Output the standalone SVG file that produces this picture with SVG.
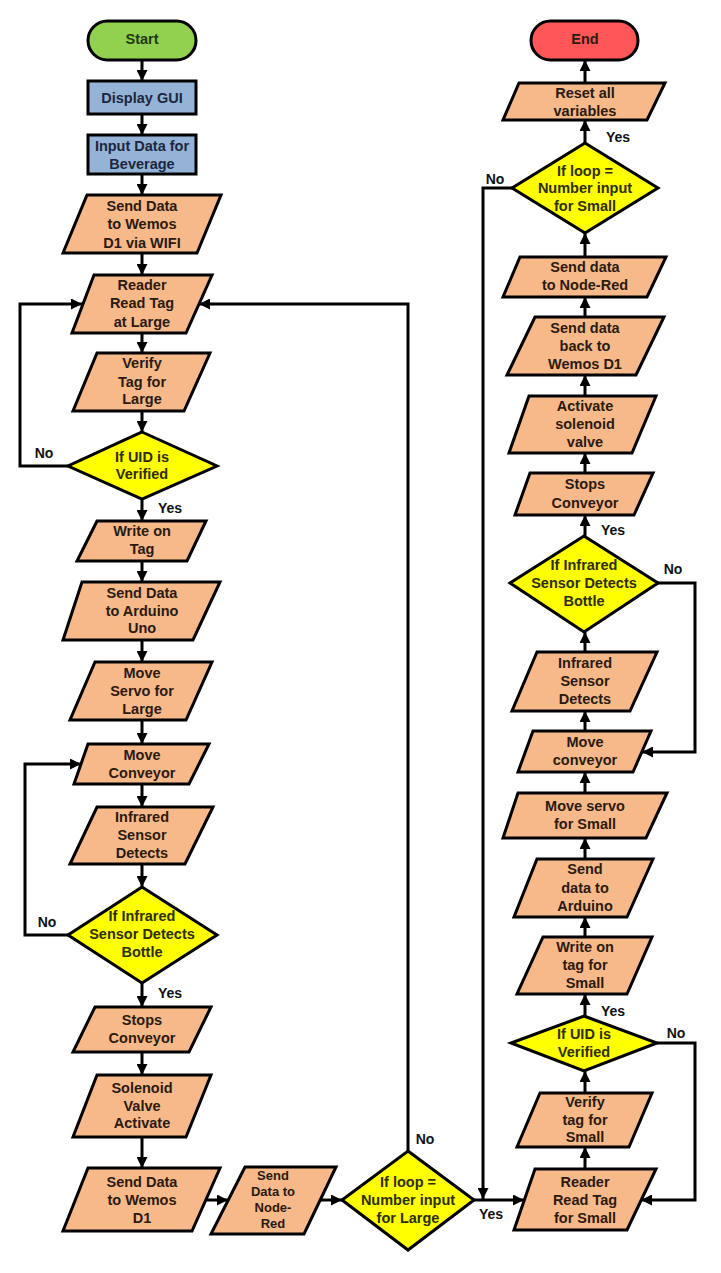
<svg xmlns="http://www.w3.org/2000/svg" width="721" height="1273" viewBox="0 0 721 1273">
  <defs>
    <marker id="arrow" viewBox="0 0 10 10" refX="10" refY="5" markerWidth="11" markerHeight="11" markerUnits="userSpaceOnUse" orient="auto">
      <path d="M0,0 L10,5 L0,10 z" fill="#000"/>
    </marker>
    <style>
      .shape { stroke: #000; stroke-width: 3; stroke-linejoin: miter; }
      .start { fill: #92D050; }
      .end { fill: #FF5757; }
      .proc { fill: #95B3D7; }
      .io { fill: #F7B88A; }
      .dec { fill: #FFFF00; }
      text { font-family: "Liberation Sans", Arial, sans-serif; font-weight: bold; text-anchor: middle; }
      .t { font-size: 14.5px; fill: #2B1A0E; }
      .ts { font-size: 13px; fill: #2B1A0E; }
      .tg { font-size: 14.5px; fill: #1E3A12; }
      .tb { font-size: 14.5px; fill: #1C2640; }
      .ty { font-size: 14.5px; fill: #2E2E06; }
      .lbl { font-size: 14px; fill: #111; }
      .conn { fill: none; stroke: #000; stroke-width: 3; }
    </style>
  </defs>
  <rect width="721" height="1273" fill="#fff"/>

  <!-- connectors -->
  <g id="connectors">
    <!-- left column, downward -->
    <line class="conn" x1="142" y1="60" x2="142" y2="81" marker-end="url(#arrow)"/>
    <line class="conn" x1="142" y1="114" x2="142" y2="135" marker-end="url(#arrow)"/>
    <line class="conn" x1="142" y1="174" x2="142" y2="195" marker-end="url(#arrow)"/>
    <line class="conn" x1="142" y1="253" x2="142" y2="275" marker-end="url(#arrow)"/>
    <line class="conn" x1="142" y1="333" x2="142" y2="353" marker-end="url(#arrow)"/>
    <line class="conn" x1="142" y1="411" x2="142" y2="432" marker-end="url(#arrow)"/>
    <line class="conn" x1="142" y1="499" x2="142" y2="521" marker-end="url(#arrow)"/>
    <line class="conn" x1="142" y1="561" x2="142" y2="582" marker-end="url(#arrow)"/>
    <line class="conn" x1="142" y1="640" x2="142" y2="662" marker-end="url(#arrow)"/>
    <line class="conn" x1="142" y1="720" x2="142" y2="744" marker-end="url(#arrow)"/>
    <line class="conn" x1="142" y1="784" x2="142" y2="807" marker-end="url(#arrow)"/>
    <line class="conn" x1="142" y1="864" x2="142" y2="887" marker-end="url(#arrow)"/>
    <line class="conn" x1="142" y1="983" x2="142" y2="1007" marker-end="url(#arrow)"/>
    <line class="conn" x1="142" y1="1052" x2="142" y2="1075" marker-end="url(#arrow)"/>
    <line class="conn" x1="142" y1="1137" x2="142" y2="1168" marker-end="url(#arrow)"/>
    <!-- bottom row, rightward -->
    <line class="conn" x1="206" y1="1200" x2="228" y2="1200" marker-end="url(#arrow)"/>
    <line class="conn" x1="320" y1="1200" x2="342" y2="1200" marker-end="url(#arrow)"/>
    <line class="conn" x1="474" y1="1200" x2="524" y2="1200" marker-end="url(#arrow)"/>
    <!-- left loops -->
    <polyline class="conn" points="68,466 20,466 20,304 82,304" marker-end="url(#arrow)"/>
    <polyline class="conn" points="68,935 25,935 25,764 81,764" marker-end="url(#arrow)"/>
    <polyline class="conn" points="408,1151 408,304 199,304" marker-end="url(#arrow)"/>
    <!-- right column, upward -->
    <line class="conn" x1="585" y1="1169" x2="585" y2="1147" marker-end="url(#arrow)"/>
    <line class="conn" x1="585" y1="1093" x2="585" y2="1071" marker-end="url(#arrow)"/>
    <line class="conn" x1="585" y1="1016" x2="585" y2="994" marker-end="url(#arrow)"/>
    <line class="conn" x1="585" y1="937" x2="585" y2="917" marker-end="url(#arrow)"/>
    <line class="conn" x1="585" y1="859" x2="585" y2="838" marker-end="url(#arrow)"/>
    <line class="conn" x1="585" y1="793" x2="585" y2="772" marker-end="url(#arrow)"/>
    <line class="conn" x1="585" y1="731" x2="585" y2="711" marker-end="url(#arrow)"/>
    <line class="conn" x1="585" y1="652" x2="585" y2="632" marker-end="url(#arrow)"/>
    <line class="conn" x1="585" y1="536" x2="585" y2="515" marker-end="url(#arrow)"/>
    <line class="conn" x1="585" y1="473" x2="585" y2="453" marker-end="url(#arrow)"/>
    <line class="conn" x1="585" y1="396" x2="585" y2="375" marker-end="url(#arrow)"/>
    <line class="conn" x1="585" y1="317" x2="585" y2="297" marker-end="url(#arrow)"/>
    <line class="conn" x1="585" y1="257" x2="585" y2="233" marker-end="url(#arrow)"/>
    <line class="conn" x1="585" y1="143" x2="585" y2="120" marker-end="url(#arrow)"/>
    <line class="conn" x1="585" y1="83" x2="585" y2="60" marker-end="url(#arrow)"/>
    <!-- right loops -->
    <polyline class="conn" points="657,1043 695,1043 695,1200 641,1200" marker-end="url(#arrow)"/>
    <polyline class="conn" points="658,583 695,583 695,752 642,752" marker-end="url(#arrow)"/>
    <polyline class="conn" points="512,188 483,188 483,1199" marker-end="url(#arrow)"/>
  </g>

  <!-- left column nodes -->
  <g id="start">
    <rect class="shape start" x="88" y="21" width="108" height="39" rx="19.5"/>
    <text class="tg" x="142" y="44">Start</text>
  </g>
  <g id="display-gui">
    <rect class="shape proc" x="88" y="81" width="108" height="33"/>
    <text class="tb" x="142" y="103">Display GUI</text>
  </g>
  <g id="input-data">
    <rect class="shape proc" x="88" y="135" width="108" height="39"/>
    <text class="tb" x="142" y="151">Input Data for</text>
    <text class="tb" x="142" y="169">Beverage</text>
  </g>
  <g id="send-wifi">
    <polygon class="shape io" points="87,195 221,195 197,253 63,253"/>
    <text class="t" x="142" y="211">Send Data</text>
    <text class="t" x="142" y="229">to Wemos</text>
    <text class="t" x="142" y="248">D1 via WIFI</text>
  </g>
  <g id="reader-large">
    <polygon class="shape io" points="94,275 212,275 186,333 72,333"/>
    <text class="t" x="142" y="290">Reader</text>
    <text class="t" x="142" y="308">Read Tag</text>
    <text class="t" x="142" y="327">at Large</text>
  </g>
  <g id="verify-large">
    <polygon class="shape io" points="97,353 210,353 184,411 73,411"/>
    <text class="t" x="142" y="368">Verify</text>
    <text class="t" x="142" y="387">Tag for</text>
    <text class="t" x="142" y="404">Large</text>
  </g>
  <g id="uid-large">
    <polygon class="shape dec" points="142,432 217,466 142,499 68,466"/>
    <text class="ty" x="142" y="462">If UID is</text>
    <text class="ty" x="142" y="479">Verified</text>
  </g>
  <g id="write-tag">
    <polygon class="shape io" points="97,521 206,521 187,561 77,561"/>
    <text class="t" x="142" y="536">Write on</text>
    <text class="t" x="142" y="554">Tag</text>
  </g>
  <g id="send-arduino">
    <polygon class="shape io" points="82,582 220,582 193,640 63,640"/>
    <text class="t" x="142" y="598">Send Data</text>
    <text class="t" x="142" y="616">to Arduino</text>
    <text class="t" x="142" y="633">Uno</text>
  </g>
  <g id="servo-large">
    <polygon class="shape io" points="95,662 212,662 186,720 70,720"/>
    <text class="t" x="142" y="678">Move</text>
    <text class="t" x="142" y="696">Servo for</text>
    <text class="t" x="142" y="714">Large</text>
  </g>
  <g id="conveyor-large">
    <polygon class="shape io" points="88,744 209,744 189,784 74,784"/>
    <text class="t" x="142" y="760">Move</text>
    <text class="t" x="142" y="778">Conveyor</text>
  </g>
  <g id="ir-large">
    <polygon class="shape io" points="97,807 213,807 185,864 70,864"/>
    <text class="t" x="142" y="822">Infrared</text>
    <text class="t" x="142" y="840">Sensor</text>
    <text class="t" x="142" y="858">Detects</text>
  </g>
  <g id="bottle-large">
    <polygon class="shape dec" points="142,887 217,935 142,983 68,935"/>
    <text class="ty" x="142" y="921">If Infrared</text>
    <text class="ty" x="142" y="939">Sensor Detects</text>
    <text class="ty" x="142" y="957">Bottle</text>
  </g>
  <g id="stops-large">
    <polygon class="shape io" points="95,1007 211,1007 189,1052 73,1052"/>
    <text class="t" x="142" y="1025">Stops</text>
    <text class="t" x="142" y="1043">Conveyor</text>
  </g>
  <g id="solenoid-large">
    <polygon class="shape io" points="97,1075 211,1075 186,1137 73,1137"/>
    <text class="t" x="142" y="1093">Solenoid</text>
    <text class="t" x="142" y="1111">Valve</text>
    <text class="t" x="142" y="1128">Activate</text>
  </g>
  <g id="send-wemos">
    <polygon class="shape io" points="88,1168 220,1168 192,1231 63,1231"/>
    <text class="t" x="142" y="1187">Send Data</text>
    <text class="t" x="142" y="1205">to Wemos</text>
    <text class="t" x="142" y="1223">D1</text>
  </g>
  <g id="send-nodered-large">
    <polygon class="shape io" points="245,1167 336,1167 304,1234 211,1234"/>
    <text class="ts" x="273" y="1180">Send</text>
    <text class="ts" x="273" y="1196">Data to</text>
    <text class="ts" x="273" y="1212">Node-</text>
    <text class="ts" x="273" y="1228">Red</text>
  </g>
  <g id="loop-large">
    <polygon class="shape dec" points="408,1151 474,1200 408,1250 342,1200"/>
    <text class="ty" x="408" y="1187">If loop =</text>
    <text class="ty" x="408" y="1205">Number input</text>
    <text class="ty" x="408" y="1223">for Large</text>
  </g>

  <!-- right column nodes -->
  <g id="end">
    <rect class="shape end" x="531" y="21" width="107" height="39" rx="19.5"/>
    <text class="t" x="585" y="44">End</text>
  </g>
  <g id="reset">
    <polygon class="shape io" points="519,83 665,83 647,120 503,120"/>
    <text class="t" x="585" y="98">Reset all</text>
    <text class="t" x="585" y="116">variables</text>
  </g>
  <g id="loop-small">
    <polygon class="shape dec" points="585,143 658,188 585,233 512,188"/>
    <text class="ty" x="585" y="176">If loop =</text>
    <text class="ty" x="585" y="193">Number input</text>
    <text class="ty" x="585" y="211">for Small</text>
  </g>
  <g id="send-nodered-small">
    <polygon class="shape io" points="520,257 666,257 647,297 503,297"/>
    <text class="t" x="585" y="272">Send data</text>
    <text class="t" x="585" y="290">to Node-Red</text>
  </g>
  <g id="send-back">
    <polygon class="shape io" points="535,317 664,317 636,375 507,375"/>
    <text class="t" x="585" y="333">Send data</text>
    <text class="t" x="585" y="351">back to</text>
    <text class="t" x="585" y="369">Wemos D1</text>
  </g>
  <g id="activate">
    <polygon class="shape io" points="529,396 656,396 632,453 509,453"/>
    <text class="t" x="585" y="411">Activate</text>
    <text class="t" x="585" y="429">solenoid</text>
    <text class="t" x="585" y="447">valve</text>
  </g>
  <g id="stops-small">
    <polygon class="shape io" points="530,473 653,473 634,515 515,515"/>
    <text class="t" x="585" y="489">Stops</text>
    <text class="t" x="585" y="508">Conveyor</text>
  </g>
  <g id="bottle-small">
    <polygon class="shape dec" points="584,536 658,583 584,632 510,583"/>
    <text class="ty" x="584" y="570">If Infrared</text>
    <text class="ty" x="584" y="588">Sensor Detects</text>
    <text class="ty" x="584" y="606">Bottle</text>
  </g>
  <g id="ir-small">
    <polygon class="shape io" points="537,652 657,652 630,711 512,711"/>
    <text class="t" x="585" y="668">Infrared</text>
    <text class="t" x="585" y="686">Sensor</text>
    <text class="t" x="585" y="704">Detects</text>
  </g>
  <g id="conveyor-small">
    <polygon class="shape io" points="533,731 651,731 633,772 518,772"/>
    <text class="t" x="585" y="747">Move</text>
    <text class="t" x="585" y="765">conveyor</text>
  </g>
  <g id="servo-small">
    <polygon class="shape io" points="518,793 667,793 646,838 503,838"/>
    <text class="t" x="585" y="811">Move servo</text>
    <text class="t" x="585" y="829">for Small</text>
  </g>
  <g id="send-arduino-small">
    <polygon class="shape io" points="537,859 653,859 627,917 514,917"/>
    <text class="t" x="585" y="874">Send</text>
    <text class="t" x="585" y="893">data to</text>
    <text class="t" x="585" y="911">Arduino</text>
  </g>
  <g id="write-small">
    <polygon class="shape io" points="543,937 652,937 627,994 517,994"/>
    <text class="t" x="585" y="952">Write on</text>
    <text class="t" x="585" y="970">tag for</text>
    <text class="t" x="585" y="988">Small</text>
  </g>
  <g id="uid-small">
    <polygon class="shape dec" points="584,1016 657,1043 584,1071 511,1043"/>
    <text class="ty" x="584" y="1039">If UID is</text>
    <text class="ty" x="584" y="1057">Verified</text>
  </g>
  <g id="verify-small">
    <polygon class="shape io" points="540,1093 652,1093 629,1147 517,1147"/>
    <text class="t" x="585" y="1107">Verify</text>
    <text class="t" x="585" y="1125">tag for</text>
    <text class="t" x="585" y="1142">Small</text>
  </g>
  <g id="reader-small">
    <polygon class="shape io" points="535,1169 656,1169 627,1230 514,1230"/>
    <text class="t" x="585" y="1187">Reader</text>
    <text class="t" x="585" y="1205">Read Tag</text>
    <text class="t" x="585" y="1223">for Small</text>
  </g>

  <!-- branch labels -->
  <g id="labels">
    <text class="lbl" x="44" y="458">No</text>
    <text class="lbl" x="170" y="513">Yes</text>
    <text class="lbl" x="47" y="927">No</text>
    <text class="lbl" x="170" y="998">Yes</text>
    <text class="lbl" x="425" y="1144">No</text>
    <text class="lbl" x="491" y="1219">Yes</text>
    <text class="lbl" x="613" y="1016">Yes</text>
    <text class="lbl" x="676" y="1038">No</text>
    <text class="lbl" x="613" y="535">Yes</text>
    <text class="lbl" x="673" y="574">No</text>
    <text class="lbl" x="618" y="142">Yes</text>
    <text class="lbl" x="495" y="184">No</text>
  </g>
</svg>
